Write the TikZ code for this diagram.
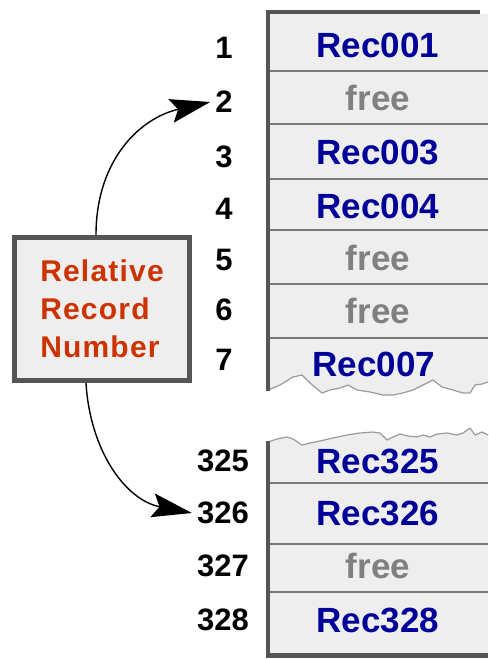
\documentclass[tikz,border=0pt]{standalone}
\usepackage{fontspec}
\setmainfont{Liberation Sans}
\newfontfamily\spacedsans[LetterSpace=4]{Liberation Sans}
\usetikzlibrary{arrows.meta}
\definecolor{cellfill}{HTML}{EEEEEE}
\definecolor{border}{HTML}{555555}
\definecolor{sepline}{HTML}{7A7A7A}
\definecolor{tornline}{HTML}{9A9A9A}
\definecolor{recblue}{HTML}{000099}
\definecolor{freegray}{HTML}{808080}
\definecolor{lblred}{HTML}{CC3300}
\tikzset{
  numlbl/.style={font=\fontsize{31}{31}\selectfont\bfseries, text=black, inner sep=2pt},
  reclbl/.style={font=\fontsize{35}{35}\selectfont\bfseries, text=recblue, inner sep=0pt},
  freelbl/.style={font=\fontsize{35}{35}\selectfont\bfseries, text=freegray, inner sep=0pt},
  sep/.style={draw=sepline, line width=2pt},
  thick border/.style={draw=border, line width=4.5pt},
  torn/.style={draw=tornline, line width=1.2pt, line join=round},
  arr/.style={draw=black, line width=1.4pt, -{Stealth[length=40pt,width=24pt,inset=7pt]}},
  rrnbox/.style={draw=border, line width=5pt, fill=cellfill, minimum width=175pt, minimum height=143pt,
     align=left, text=lblred, font=\spacedsans\fontsize{30}{38}\selectfont\bfseries, inner sep=0pt}
}
\begin{document}
\begin{tikzpicture}[x=1pt,y=-1pt]
\useasboundingbox (0,0) rectangle (488,659);
% upper block fill
\fill[cellfill] (269,14) -- (488,14) -- (488,382)
  -- (482,384) -- (475,385) -- (470,393) -- (463,393) -- (453,390) -- (442,387) -- (433,380)
  -- (427,383) -- (413,390) -- (403,393) -- (393,395) -- (383,395) -- (370,392) -- (357,390)
  -- (348,385) -- (340,388) -- (330,390) -- (322,393) -- (310,383) -- (302,375) -- (293,377)
  -- (280,385) -- (269,390) -- cycle;
% lower block fill
\fill[cellfill] (269,442) -- (277,439) -- (287,437) -- (293,439) -- (302,445) -- (310,443)
  -- (320,441) -- (333,438) -- (347,435) -- (360,433) -- (373,432) -- (380,433) -- (387,440)
  -- (393,437) -- (400,434) -- (408,436) -- (417,437) -- (423,435) -- (430,437) -- (437,434)
  -- (447,433) -- (457,435) -- (463,433) -- (470,428) -- (475,435) -- (482,432) -- (488,435)
  -- (488,655) -- (269,655) -- cycle;
% row separators
\foreach \yy in {71,124,179,230,284,338,483,544,592}
  \draw[sep] (269,\yy) -- (488,\yy);
% torn edges
\draw[torn] (268,390) -- (280,385) -- (293,377) -- (302,375) -- (310,383) -- (322,393)
  -- (330,390) -- (340,388) -- (348,385) -- (357,390) -- (370,392) -- (383,395) -- (393,395)
  -- (403,393) -- (413,390) -- (427,383) -- (433,380) -- (442,387) -- (453,390) -- (463,393)
  -- (470,393) -- (475,385) -- (482,384) -- (488,382);
\draw[torn] (268,442) -- (277,439) -- (287,437) -- (293,439) -- (302,445) -- (310,443)
  -- (320,441) -- (333,438) -- (347,435) -- (360,433) -- (373,432) -- (380,433) -- (387,440)
  -- (393,437) -- (400,434) -- (408,436) -- (417,437) -- (423,435) -- (430,437) -- (437,434)
  -- (447,433) -- (457,435) -- (463,433) -- (470,428) -- (475,435) -- (482,432) -- (488,435);
% borders
\draw[thick border] (268,10) -- (268,391);
\draw[thick border] (266,12) -- (480,12);
\draw[thick border] (268,441) -- (268,657);
\draw[thick border] (266,655.5) -- (488,655.5);
% record texts
\node[reclbl]  (r1)   at (378,45)  {Rec001};
\node[freelbl] (r2)   at (378,98)  {free};
\node[reclbl]  (r3)   at (378,152) {Rec003};
\node[reclbl]  (r4)   at (378,206) {Rec004};
\node[freelbl] (r5)   at (378,258) {free};
\node[freelbl] (r6)   at (378,311) {free};
\node[reclbl]  (r7)   at (374,364) {Rec007};
\node[reclbl]  (r325) at (378,461) {Rec325};
\node[reclbl]  (r326) at (378,513) {Rec326};
\node[freelbl] (r327) at (378,566) {free};
\node[reclbl]  (r328) at (378,620) {Rec328};
% numbers
\node[numlbl] (n1)   at (224,48)  {1};
\node[numlbl] (n2)   at (224,102) {2};
\node[numlbl] (n3)   at (224,157) {3};
\node[numlbl] (n4)   at (224,209) {4};
\node[numlbl] (n5)   at (224,260) {5};
\node[numlbl] (n6)   at (224,310) {6};
\node[numlbl] (n7)   at (224,360) {7};
\node[numlbl] (n325) at (223,461) {325};
\node[numlbl] (n326) at (223,513) {326};
\node[numlbl] (n327) at (223,566) {327};
\node[numlbl] (n328) at (223,620) {328};
% label box
\node[rrnbox] (rrn) at (102,309) {Relative\\Record\\Number};
% connectors
\draw[arr] ([xshift=-6pt]rrn.north) .. controls (96,160) and (140,118) .. ([xshift=-3pt]n2.west);
\draw[arr] ([xshift=-16pt]rrn.south) .. controls (90,450) and (125,500) .. ([xshift=-3pt]n326.west);
\end{tikzpicture}
\end{document}
